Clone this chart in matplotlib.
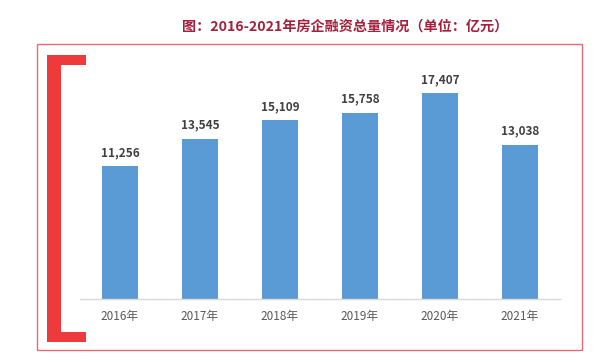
import matplotlib.pyplot as plt
from matplotlib.patches import Rectangle

plt.rcParams['font.family'] = ['Noto Sans CJK SC', 'DejaVu Sans']

years = ["2016年", "2017年", "2018年", "2019年", "2020年", "2021年"]
values = [11256, 13545, 15109, 15758, 17407, 13038]
title = "图：2016-2021年房企融资总量情况（单位：亿元）"

W, H = 610, 359
fig = plt.figure(figsize=(W / 100, H / 100), dpi=100)

# outer thin frame
fig.patches.append(Rectangle((37 / W, 1 - 350 / H), 545 / W, 306 / H,
                             transform=fig.transFigure, fill=False,
                             edgecolor='#e46a78', linewidth=1.0))

# red bracket on the left
red = '#ee3a3a'
for x, y, w, h in [(47, 55, 14, 287), (47, 55, 39, 10), (47, 332, 39, 10)]:
    fig.patches.append(Rectangle((x / W, 1 - (y + h) / H), w / W, h / H,
                                 transform=fig.transFigure, facecolor=red,
                                 edgecolor='none'))

fig.text(345 / W, 1 - 27 / H, title, ha='center', va='center',
         fontsize=10.2, fontweight='bold', color='#a3213d')

# axes: x 80..560 px, baseline at 299 px, top at 60 px
ax = fig.add_axes([80 / W, 1 - 299 / H, 480 / W, 239 / H])
x = range(len(years))
ax.bar(x, values, width=0.45, color='#5b9bd5')
ax.set_xlim(-0.5, len(years) - 0.5)
ax.set_ylim(0, 20220)
for i, v in enumerate(values):
    ax.text(i, v + 600, f"{v:,}", ha='center', va='bottom',
            fontsize=8.5, fontweight='bold', color='#404040')

ax.set_xticks(list(x))
ax.set_xticklabels(years, fontsize=8.5, color='#595959')
ax.tick_params(axis='x', length=0, pad=8)
ax.set_yticks([])
for s in ['top', 'right', 'left']:
    ax.spines[s].set_visible(False)
ax.spines['bottom'].set_color('#d9d9d9')
ax.spines['bottom'].set_linewidth(1.0)

fig.savefig('out.png', dpi=100)
